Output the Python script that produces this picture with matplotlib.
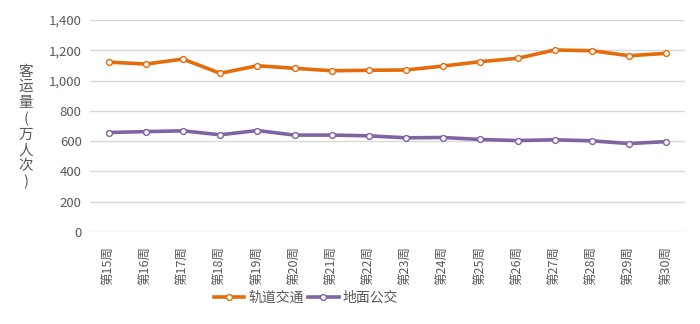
import matplotlib
matplotlib.use("Agg")
import matplotlib.pyplot as plt

plt.rcParams['font.family'] = ['Noto Sans CJK SC', 'DejaVu Sans']

weeks = [f"第{n}周" for n in range(15, 31)]
rail = [1122, 1109, 1142, 1048, 1098, 1081, 1065, 1068, 1070, 1096, 1125, 1147, 1202, 1197, 1164, 1180]
bus = [657, 663, 668, 642, 670, 640, 640, 635, 622, 624, 611, 604, 609, 602, 584, 597]
yticks = [0, 200, 400, 600, 800, 1000, 1200, 1400]

orange = "#E46C0A"
purple = "#8064A2"
grey = "#595959"

fig = plt.figure(figsize=(7, 3.24), dpi=100)
ax = fig.add_axes([90 / 700, 1 - 232 / 324, 595 / 700, 212 / 324])

x = range(len(weeks))
ax.plot(x, rail, color=orange, lw=2.6, marker="o", ms=4.2, mfc="white",
        mec=orange, mew=1.0, label="轨道交通", zorder=3)
ax.plot(x, bus, color=purple, lw=2.6, marker="o", ms=4.2, mfc="white",
        mec=purple, mew=1.0, label="地面公交", zorder=3)

ax.set_ylim(0, 1400)
ax.set_xlim(-0.5, len(weeks) - 0.5)
ax.set_yticks(yticks)
ax.set_yticklabels([f"{v:,}" for v in yticks], color=grey, fontsize=9.5)
ax.set_xticks(list(x))
ax.set_xticklabels(weeks, rotation=90, color=grey, fontsize=9)
ax.tick_params(axis="y", length=0, pad=6)
ax.tick_params(axis="x", length=0, pad=10)
ax.grid(axis="y", color="#D9D9D9", lw=1)
ax.set_axisbelow(True)
for s in ax.spines.values():
    s.set_visible(False)

fig.text(26 / 700, 1 - 127 / 324, "\n".join("客运量(万人次)"), ha="center",
         va="center", fontsize=10.5, color=grey, linespacing=1.15)

fig.legend(loc="center", bbox_to_anchor=(306 / 700, 1 - 298 / 324), ncol=2,
           frameon=False, fontsize=10, handlelength=2.2, columnspacing=0.3,
           handletextpad=0.3, labelcolor=grey)

fig.savefig("out.png", dpi=100)
